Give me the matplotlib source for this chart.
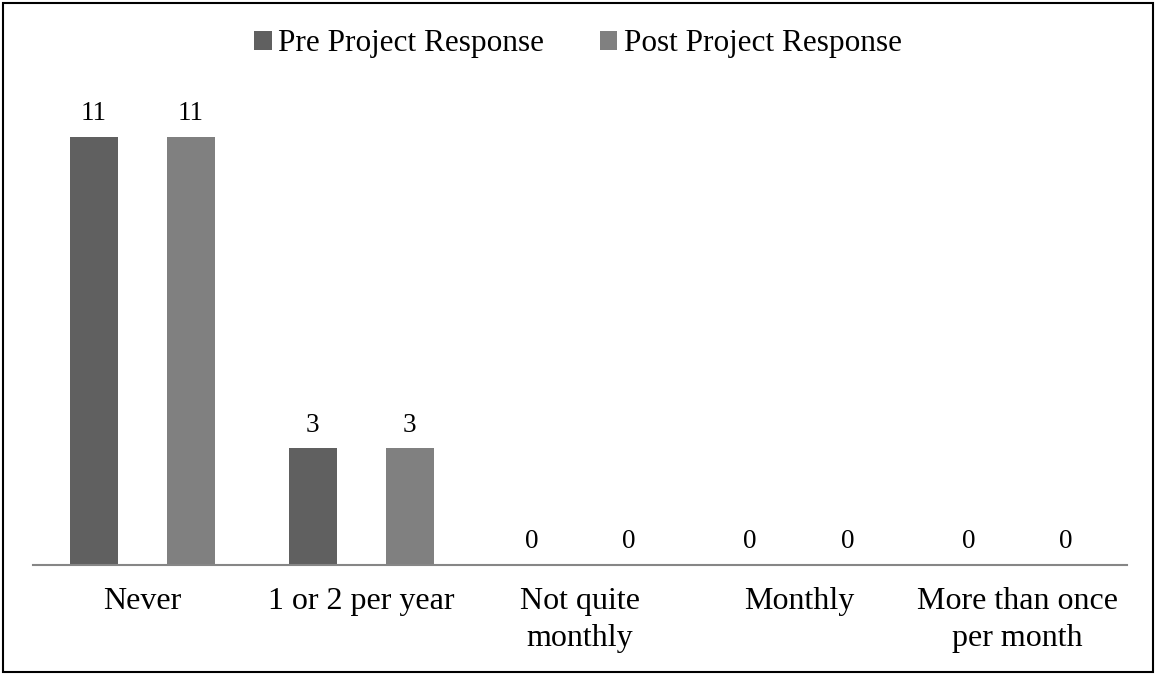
import numpy as np
import matplotlib
matplotlib.use('Agg')
from matplotlib import pyplot as plt
from matplotlib.patches import Rectangle

# dados
categorias = ['Never', '1 or 2 per year', 'Not quite\nmonthly', 'Monthly', 'More than once\nper month']
pre = [11, 3, 0, 0, 0]
pos = [11, 3, 0, 0, 0]
nomes = ['Pre Project Response', 'Post Project Response']
cores = ['#606060', '#808080']

plt.rcParams['font.family'] = ['Liberation Serif', 'DejaVu Serif']

fig = plt.figure(figsize=(11.56, 6.75), dpi=100)
W, H = 1156, 675
# eixo posicionado em pixels do original
ax = fig.add_axes([33 / W, (H - 565) / H, (1127 - 33) / W, 467 / H])

x = np.arange(len(categorias))
larg = 0.22
desloc = 0.222
b1 = ax.bar(x - desloc, pre, larg, color=cores[0], label=nomes[0], zorder=2)
b2 = ax.bar(x + desloc, pos, larg, color=cores[1], label=nomes[1], zorder=2)

for barras in (b1, b2):
    for b in barras:
        ax.annotate(str(int(b.get_height())),
                    xy=(b.get_x() + b.get_width() / 2, b.get_height()),
                    xytext=(0, 12), textcoords='offset points',
                    ha='center', va='baseline', fontsize=19.5)

ax.set_xlim(-0.5, len(categorias) - 0.5)
ax.set_ylim(0, 12)
ax.set_yticks([])
for lado in ('top', 'right', 'left'):
    ax.spines[lado].set_visible(False)
ax.spines['bottom'].set_color('#868686')
ax.spines['bottom'].set_linewidth(1.5)
ax.set_xticks(x)
ax.set_xticklabels(categorias, fontsize=23, linespacing=1.35)
ax.tick_params(axis='x', length=0, pad=16)

fig.legend(handles=[b1, b2], loc='center', bbox_to_anchor=(0.5, 1 - 44 / H),
           ncol=2, frameon=False, fontsize=22.5, handlelength=0.55, handleheight=0.55,
           handletextpad=0.2, columnspacing=1.8)

# borda da figura
fig.patches.append(Rectangle((3 / W, 3 / H), 1 - 6 / W, 1 - 6 / H, transform=fig.transFigure,
                             fill=False, edgecolor='black', linewidth=1.5))

plt.savefig('out.png', dpi=100)
